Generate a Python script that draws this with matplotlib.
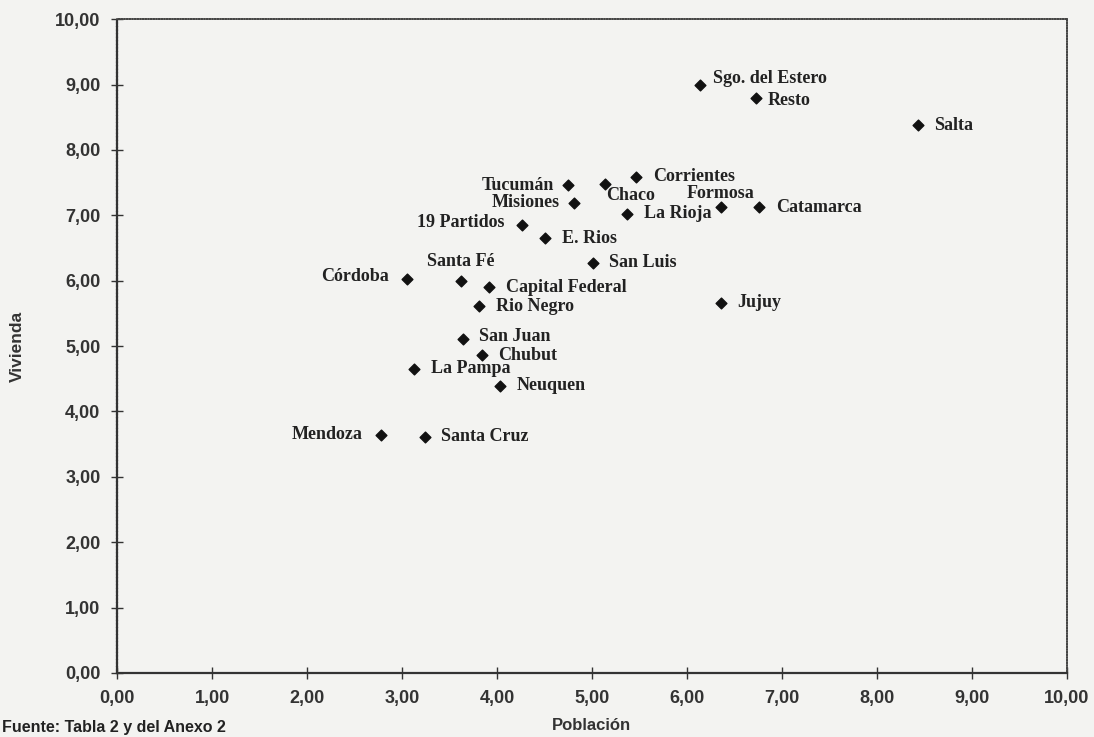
import matplotlib
matplotlib.use("Agg")
import matplotlib.pyplot as plt

# provincias: poblacion (x) y vivienda (y)
nombres = ["Sgo. del Estero", "Resto", "Salta", "Corrientes", "Tucumán", "Chaco",
           "Misiones", "La Rioja", "Formosa", "Catamarca", "19 Partidos", "E. Rios",
           "San Luis", "Jujuy", "Córdoba", "Santa Fé", "Capital Federal", "Rio Negro",
           "San Juan", "Chubut", "La Pampa", "Neuquen", "Mendoza", "Santa Cruz"]
poblacion = [6.14, 6.73, 8.43, 5.47, 4.75, 5.14, 4.81, 5.37, 6.36, 6.76, 4.26, 4.51,
             5.01, 6.36, 3.05, 3.62, 3.92, 3.81, 3.64, 3.84, 3.13, 4.03, 2.78, 3.24]
vivienda = [8.99, 8.80, 8.38, 7.59, 7.46, 7.48, 7.19, 7.02, 7.12, 7.12, 6.85, 6.65,
            6.27, 5.66, 6.02, 6.00, 5.90, 5.61, 5.11, 4.86, 4.65, 4.39, 3.64, 3.61]

# donde va cada etiqueta (offset en puntos, alineacion)
pos = {
    "Sgo. del Estero": (9, 5, "left"),
    "Resto": (8, -2, "left"),
    "Tucumán": (-10, 0, "right"),
    "Chaco": (1, -8, "left"),
    "Misiones": (-10, 0, "right"),
    "Formosa": (0, 10, "center"),
    "19 Partidos": (-12, 2, "right"),
    "Córdoba": (-13, 2, "right"),
    "Santa Fé": (0, 14, "center"),
    "Mendoza": (-13, 0, "right"),
    "San Juan": (12, 2, "left"),
}

bg = "#f3f3f1"
fig = plt.figure(figsize=(10.94, 7.37), dpi=100, facecolor=bg)
ax = fig.add_axes([0.107, 0.087, 0.868, 0.887], facecolor=bg)

ax.scatter(poblacion, vivienda, marker="D", s=30, color="#111111", zorder=3)

for n, x, y in zip(nombres, poblacion, vivienda):
    dx, dy, ha = pos.get(n, (12, 0, "left"))
    ax.annotate(n, (x, y), xytext=(dx, dy), textcoords="offset points",
                ha=ha, va="center", fontsize=13, family="Liberation Serif",
                fontweight="bold", color="#222222")

ax.set_xlim(0, 10)
ax.set_ylim(0, 10)
ticks = list(range(0, 11))
ax.set_xticks(ticks)
ax.set_yticks(ticks)
ax.set_xticklabels(["%d,00" % t for t in ticks])
ax.set_yticklabels(["%d,00" % t for t in ticks])
ax.tick_params(direction="inout", length=8, width=1, color="#333333",
               labelsize=13, pad=8)
for lab in ax.get_xticklabels() + ax.get_yticklabels():
    lab.set_fontweight("bold")
    lab.set_family("Liberation Sans")
    lab.set_color("#333333")

for s in ["left", "bottom"]:
    ax.spines[s].set_linewidth(1.6)
    ax.spines[s].set_color("#333333")
for s in ["top", "right"]:
    ax.spines[s].set_linewidth(1.2)
    ax.spines[s].set_linestyle((0, (1, 0.6)))
    ax.spines[s].set_color("#444444")
ax.spines["left"].set_linestyle((0, (1, 0.6)))

ax.set_xlabel("Población", fontsize=12, fontweight="bold", family="Liberation Sans",
              color="#333333", labelpad=8)
ax.set_ylabel("Vivienda", fontsize=12.5, fontweight="bold", family="Liberation Sans",
              color="#333333", labelpad=22)

fig.text(0.002, 0.003, "Fuente: Tabla 2 y del Anexo 2", fontsize=11.5,
         fontweight="bold", family="Liberation Sans", color="#222222", va="bottom")

fig.savefig("out.png", dpi=100, facecolor=bg)
